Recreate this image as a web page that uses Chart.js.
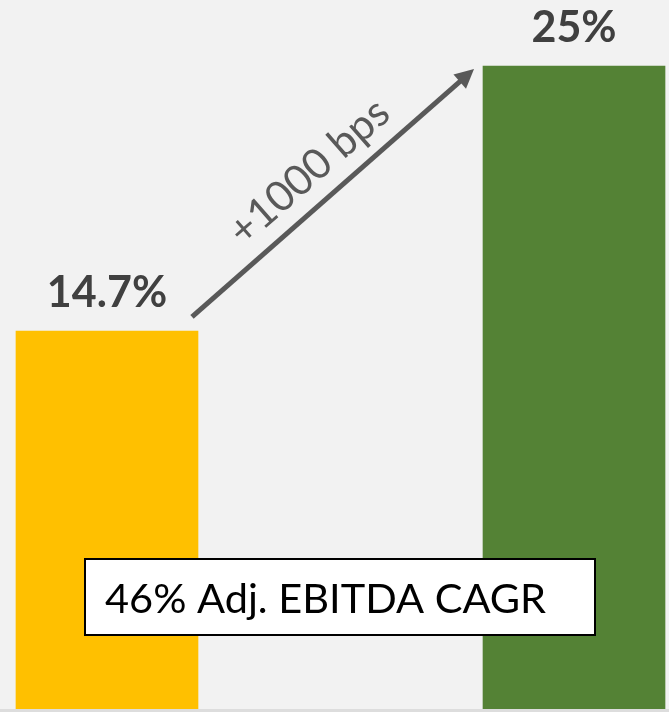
<!DOCTYPE html>
<html>
<head>
<meta charset="utf-8">
<title>Margin expansion</title>
<script src="https://cdn.jsdelivr.net/npm/chart.js@4"></script>
<style>
  html, body { margin: 0; padding: 0; background: #f2f2f2; }
  canvas { display: block; }
</style>
</head>
<body>
<canvas id="marginChart" width="669" height="712"></canvas>
<script>
'use strict';

// Adj. EBITDA margin, current vs target
const periods = ['Current', 'Target'];
const positions = [0, 1];
const margins = [14.7, 25];
const barColors = ['#FFC000', '#548235'];
const valueLabels = ['14.7%', '25%'];
const changeLabel = '+1000 bps';
const cagrLabel = '46% Adj. EBITDA CAGR';

const FONT = 'Lato, "Open Sans", sans-serif';

// paper-like backdrop plus the faint base strip under the bars
const backdrop = {
    id: 'backdrop',
    beforeDraw(chart) {
        const { ctx, width, height, chartArea } = chart;
        ctx.save();
        ctx.fillStyle = '#f2f2f2';
        ctx.fillRect(0, 0, width, height);
        ctx.fillStyle = '#dddddd';
        ctx.fillRect(0, chartArea.bottom, width, height - chartArea.bottom);
        ctx.restore();
    }
};

const annotations = {
    id: 'annotations',
    afterDatasetsDraw(chart) {
        const { ctx } = chart;
        const bars = chart.getDatasetMeta(0).data;
        ctx.save();

        // value labels above each bar
        ctx.fillStyle = '#404040';
        ctx.font = 'bold 43px ' + FONT;
        ctx.textAlign = 'center';
        ctx.textBaseline = 'alphabetic';
        bars.forEach((bar, i) => {
            ctx.fillText(valueLabels[i], bar.x, bar.y - 24);
        });

        // arrow from the first bar's corner to the second bar
        const a = bars[0], b = bars[1];
        const x0 = a.x + a.width / 2 - 6, y0 = a.y - 14;
        const x1 = b.x - b.width / 2 - 9, y1 = b.y + 3;
        const ang = Math.atan2(y1 - y0, x1 - x0);
        const len = Math.hypot(x1 - x0, y1 - y0);
        const head = 19, halfW = 9.5;

        ctx.translate(x0, y0);
        ctx.rotate(ang);
        ctx.strokeStyle = '#595959';
        ctx.fillStyle = '#595959';
        ctx.lineWidth = 5;
        ctx.beginPath();
        ctx.moveTo(0, 0);
        ctx.lineTo(len - head + 2, 0);
        ctx.stroke();
        ctx.beginPath();
        ctx.moveTo(len, 0);
        ctx.lineTo(len - head, -halfW);
        ctx.lineTo(len - head, halfW);
        ctx.closePath();
        ctx.fill();

        ctx.font = '42px ' + FONT;
        ctx.textAlign = 'center';
        ctx.fillText(changeLabel, len / 2 - 4, -18);
        ctx.setTransform(1, 0, 0, 1, 0, 0);

        // CAGR call-out box
        const bx = 85, by = 559, bw = 510, bh = 76;
        ctx.fillStyle = '#ffffff';
        ctx.fillRect(bx, by, bw, bh);
        ctx.strokeStyle = '#000000';
        ctx.lineWidth = 2;
        ctx.strokeRect(bx, by, bw, bh);
        ctx.fillStyle = '#000000';
        ctx.font = '41.5px ' + FONT;
        ctx.textAlign = 'left';
        ctx.fillText(cagrLabel, 105, 613);

        ctx.restore();
    }
};

function draw() {
    new Chart(document.getElementById('marginChart'), {
        type: 'bar',
        data: {
            labels: periods,
            datasets: [{
                label: 'Adj. EBITDA margin',
                data: positions.map((x, i) => ({ x: x, y: margins[i] })),
                backgroundColor: barColors,
                borderWidth: 0,
                barThickness: 182
            }]
        },
        options: {
            responsive: false,
            animation: false,
            layout: { padding: { top: 0, bottom: 3, left: 0, right: 0 } },
            plugins: {
                legend: { display: false },
                tooltip: { enabled: false }
            },
            scales: {
                x: { type: 'linear', offset: false, min: -0.2291, max: 1.2034, display: false },
                y: { min: 0, max: 27.57, display: false }
            }
        },
        plugins: [backdrop, annotations]
    });
}

Promise.all([
    document.fonts.load('bold 43px Lato'),
    document.fonts.load('42px Lato')
]).then(draw, draw);
</script>
</body>
</html>
